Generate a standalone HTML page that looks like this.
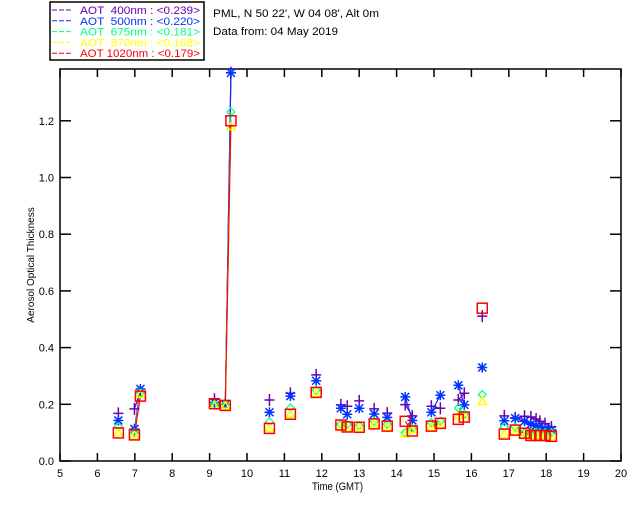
<!DOCTYPE html>
<html><head><meta charset="utf-8"><style>
html,body{margin:0;padding:0;background:#fff;}
svg{display:block;font-family:"Liberation Sans",sans-serif;}
text{white-space:pre;}
</style></head><body>
<svg id="chart" width="640" height="512">
<rect x="50" y="2" width="154" height="58" fill="#fff" stroke="#000" stroke-width="1.5"/>
<g id="legend"></g>
<text x="213" y="17" font-size="11" textLength="166" lengthAdjust="spacingAndGlyphs">PML, N 50 22', W 04 08', Alt 0m</text>
<text x="213" y="35" font-size="11" textLength="125" lengthAdjust="spacingAndGlyphs">Data from: 04 May 2019</text>
<rect x="60" y="69" width="561" height="392" fill="none" stroke="#000" stroke-width="1.5"/>
<g id="axes"></g>
<g id="series"></g>
<text x="312" y="490" font-size="11" textLength="51" lengthAdjust="spacingAndGlyphs">Time (GMT)</text>
<text transform="translate(34,265) rotate(-90)" font-size="10" text-anchor="middle">Aerosol Optical Thickness</text>
</svg>
<script>
const times=[6.56,6.99,7.15,9.13,9.42,9.57,10.6,11.16,11.85,12.51,12.68,13.0,13.4,13.75,14.23,14.42,14.93,15.17,15.65,15.81,16.29,16.88,17.17,17.42,17.59,17.73,17.83,17.97,18.14];
const aot400=[0.168,0.184,0.245,0.218,0.2,1.37,0.215,0.239,0.304,0.198,0.193,0.212,0.184,0.169,0.199,0.159,0.193,0.186,0.215,0.239,0.511,0.159,0.152,0.158,0.155,0.148,0.14,0.132,0.12];
const aot500=[0.143,0.113,0.254,0.207,0.2,1.369,0.172,0.229,0.283,0.186,0.165,0.186,0.166,0.154,0.226,0.143,0.172,0.232,0.267,0.198,0.33,0.142,0.151,0.14,0.13,0.125,0.12,0.115,0.11];
const aot675=[0.121,0.1,0.24,0.2,0.2,1.231,0.138,0.187,0.25,0.13,0.13,0.125,0.14,0.13,0.1,0.115,0.135,0.14,0.187,0.165,0.234,0.12,0.12,0.1,0.1,0.1,0.1,0.1,0.1];
const aot870=[0.1,0.09,0.235,0.195,0.195,1.18,0.115,0.165,0.24,0.12,0.115,0.12,0.13,0.12,0.095,0.11,0.12,0.125,0.16,0.16,0.21,0.095,0.105,0.09,0.09,0.09,0.09,0.09,0.087];
const aot1020=[0.099,0.092,0.229,0.202,0.196,1.2,0.115,0.165,0.242,0.127,0.12,0.119,0.131,0.123,0.14,0.106,0.123,0.133,0.147,0.155,0.539,0.095,0.109,0.098,0.09,0.09,0.09,0.09,0.087];
const xTicks=[5,6,7,8,9,10,11,12,13,14,15,16,17,18,19,20];
const yTicks=[0.0,0.2,0.4,0.6,0.8,1.0,1.2];
const legendLabels=["AOT  400nm : <0.239>","AOT  500nm : <0.220>","AOT  675nm : <0.181>","AOT  870nm : <0.168>","AOT 1020nm : <0.179>"];

const NS="http://www.w3.org/2000/svg";
const X=t=>60+(t-5)*37.4;
const Y=v=>461-v*283.5;
function mk(tag,attrs,parent){const e=document.createElementNS(NS,tag);for(const k in attrs)e.setAttribute(k,attrs[k]);parent.appendChild(e);return e;}
const axes=document.getElementById('axes');
xTicks.forEach(t=>{
  const l=mk('line',{x1:X(t),x2:X(t),y1:461,y2:453,stroke:'#000','stroke-width':1.5},axes);
  
  
  const l2=mk('line',{x1:X(t),x2:X(t),y1:69,y2:77,stroke:'#000','stroke-width':1.5},axes);
  
  
  const tx=mk('text',{x:X(t),y:477,'font-size':11,'text-anchor':'middle'},axes);tx.textContent=t;
  
  
});
yTicks.forEach(v=>{
  const l=mk('line',{x1:60,x2:71,y1:Y(v),y2:Y(v),stroke:'#000','stroke-width':1.5},axes);
  
  
  const l2=mk('line',{x1:610,x2:621,y1:Y(v),y2:Y(v),stroke:'#000','stroke-width':1.5},axes);
  
  
  const tx=mk('text',{x:54,y:Y(v)+4,'font-size':11,'text-anchor':'end'},axes);tx.textContent=v.toFixed(1);
  
  
});
const colors=['#6a00b0','#0033ff','#00ff80','#ffff00','#ff0000'];
const names=['aot-400','aot-500','aot-675','aot-870','aot-1020'];
const data=[aot400,aot500,aot675,aot870,aot1020];
const lg=document.getElementById('legend');
legendLabels.forEach((s,i)=>{
  const y=10+i*10.8;
  const l=mk('line',{x1:52,x2:73,y1:y,y2:y,stroke:colors[i],'stroke-dasharray':'5,2','stroke-width':1},lg);
  
  
  const tx=mk('text',{x:80,y:y+4,'font-size':11,fill:colors[i],textLength:120,lengthAdjust:'spacingAndGlyphs'},lg);tx.textContent=s;
  
  
});
const sg=document.getElementById('series');
function marker(i,cx,cy,g){
  const c=colors[i];let e;
  if(i===0)e=mk('path',{d:`M${cx-5},${cy}H${cx+5}M${cx},${cy-6}V${cy+6}`,stroke:c,'stroke-width':1.5,fill:'none'},g);
  else if(i===1)e=mk('path',{d:`M${cx-5},${cy}H${cx+5}M${cx},${cy-5}V${cy+5}M${cx-4},${cy-4}L${cx+4},${cy+4}M${cx-4},${cy+4}L${cx+4},${cy-4}`,stroke:c,'stroke-width':1.5,fill:'none'},g);
  else if(i===2)e=mk('path',{d:`M${cx},${cy-4}L${cx+4},${cy}L${cx},${cy+4}L${cx-4},${cy}Z`,stroke:c,'stroke-width':1.2,fill:'none'},g);
  else if(i===3)e=mk('path',{d:`M${cx},${cy-4}L${cx+4},${cy+3}L${cx-4},${cy+3}Z`,stroke:c,'stroke-width':1.5,fill:'none'},g);
  else e=mk('rect',{x:cx-5,y:cy-5,width:10,height:10,stroke:c,'stroke-width':1.5,fill:'none'},g);
  
  
}
[0,1,2,3,4].forEach(i=>{
  const g=mk('g',{},sg);
  
  
  const vals=data[i];
  for(let k=1;k<times.length;k++){
    if(times[k]-times[k-1]<0.26){
      const l=mk('line',{x1:X(times[k-1]),y1:Y(vals[k-1]),x2:X(times[k]),y2:Y(vals[k]),stroke:colors[i],'stroke-width':1.2},g);
      
      
    }
  }
});
[0,1,2,3,4].forEach(i=>{
  const g=mk('g',{},sg);
  
  
  times.forEach((t,k)=>marker(i,X(t),Y(data[i][k]),g));
});
</script>
</body></html>
